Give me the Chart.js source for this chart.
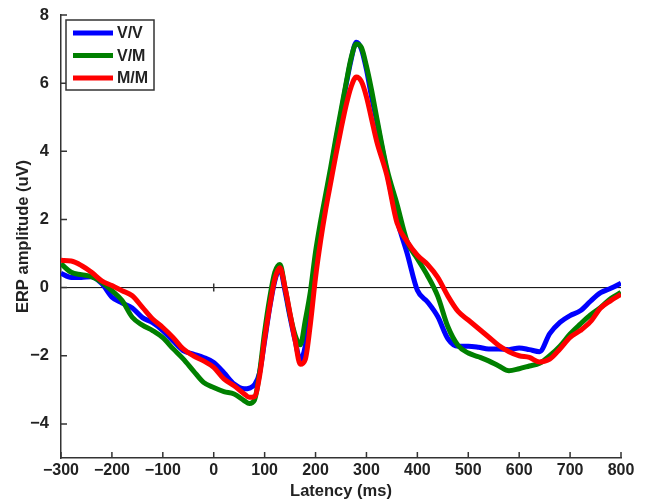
<!DOCTYPE html>
<html>
<head>
<meta charset="utf-8">
<script src="https://cdn.jsdelivr.net/npm/chart.js@4.4.1/dist/chart.umd.min.js"></script>
<style>
  html, body { margin: 0; padding: 0; background: #fff; }
  canvas { display: block; }
</style>
</head>
<body>
<canvas id="erp" width="646" height="501"></canvas>
<script>
// latency points (ms), finer steps around the fast components
const latency = [-300,-280,-260,-240,-220,-200,-180,-160,-140,-120,-100,-80,-60,-40,-20,0,20,40,60,
  70,80,90,100,110,120,130,140,150,160,170,180,190,200,210,220,230,240,250,260,270,280,290,300,310,320,
  340,360,380,400,420,440,460,480,500,520,540,560,580,600,620,640,660,680,700,720,740,760,780,800];

// ERP amplitude (uV) per condition
const vv = [0.42,0.3,0.3,0.32,0.12,-0.28,-0.45,-0.6,-0.88,-1.03,-1.26,-1.56,-1.85,-1.95,-2.05,-2.2,-2.5,-2.83,-2.97,
  -2.95,-2.85,-2.5,-1.56,-0.58,0.2,0.55,-0.1,-0.87,-1.56,-2.12,-1.7,-0.5,0.6,1.55,2.5,3.4,4.3,5.1,5.95,6.7,7.2,7.0,6.4,5.6,4.9,
  3.4,2.0,1.0,-0.08,-0.42,-0.85,-1.5,-1.72,-1.72,-1.75,-1.8,-1.8,-1.82,-1.77,-1.82,-1.88,-1.35,-1.02,-0.82,-0.68,-0.4,-0.15,-0.02,0.13];
const vm = [0.7,0.45,0.38,0.32,0.16,-0.09,-0.38,-0.87,-1.1,-1.26,-1.47,-1.79,-2.09,-2.44,-2.78,-2.93,-3.05,-3.12,-3.32,
  -3.4,-3.3,-2.5,-1.3,-0.3,0.45,0.68,0.0,-0.8,-1.4,-1.68,-0.95,-0.1,1.05,1.95,2.75,3.55,4.4,5.2,6.0,6.75,7.15,7.05,6.5,5.8,5.0,
  3.5,2.45,1.35,0.85,0.35,-0.25,-1.15,-1.7,-1.92,-2.03,-2.15,-2.3,-2.44,-2.38,-2.3,-2.22,-2.0,-1.72,-1.36,-1.07,-0.8,-0.58,-0.32,-0.14];
const mm = [0.8,0.78,0.65,0.45,0.2,0.06,-0.09,-0.24,-0.58,-0.92,-1.17,-1.46,-1.8,-2.0,-2.15,-2.34,-2.68,-2.88,-3.12,
  -3.22,-3.2,-2.6,-1.5,-0.55,0.25,0.58,0.0,-0.77,-1.56,-2.25,-2.1,-1.05,0.3,1.38,2.3,3.1,3.9,4.65,5.35,5.9,6.18,6.05,5.6,4.95,4.3,
  3.3,1.9,1.35,0.95,0.68,0.3,-0.25,-0.7,-0.95,-1.2,-1.45,-1.7,-1.88,-2.0,-2.05,-2.18,-2.1,-1.8,-1.46,-1.26,-1.0,-0.6,-0.38,-0.2];

const seriesNames = ['V/V', 'V/M', 'M/M'];
const seriesColors = ['#0000ff', '#008000', '#ff0000'];
const yTicks = [-4, -2, 0, 2, 4, 6, 8];

const FONT = 'Liberation Sans, Arial, sans-serif';
const INK = '#222';
const AXIS = '#333';

function toPoints(vals) {
  return latency.map((t, i) => ({ x: t, y: vals[i] }));
}

function minus(v) {
  return String(v).replace('-', '\u2212');
}

// zero line, inward tick marks and the boxed legend in the upper left
const erpDecor = {
  id: 'erpDecor',
  beforeDatasetsDraw(chart) {
    const { ctx, chartArea, scales } = chart;
    const y0 = scales.y.getPixelForValue(0);
    ctx.save();
    ctx.strokeStyle = '#000';
    ctx.lineWidth = 1;
    ctx.beginPath();
    ctx.moveTo(chartArea.left, y0);
    ctx.lineTo(chartArea.right, y0);
    ctx.stroke();
    ctx.restore();
  },
  afterDraw(chart) {
    const { ctx, chartArea, scales } = chart;
    const x = scales.x, y = scales.y;
    ctx.save();
    ctx.strokeStyle = AXIS;
    ctx.lineWidth = 1.5;
    ctx.beginPath();
    x.ticks.forEach(t => {
      const px = x.getPixelForValue(t.value);
      ctx.moveTo(px, chartArea.bottom);
      ctx.lineTo(px, chartArea.bottom - 6);
    });
    y.ticks.forEach(t => {
      const py = y.getPixelForValue(t.value);
      ctx.moveTo(chartArea.left, py);
      ctx.lineTo(chartArea.left + 6, py);
    });
    // small tick where the zero line crosses latency 0
    const x0 = x.getPixelForValue(0), y0 = y.getPixelForValue(0);
    ctx.moveTo(x0, y0 - 4);
    ctx.lineTo(x0, y0 + 4);
    ctx.stroke();

    // legend
    const bx = chartArea.left + 5, by = chartArea.top + 5, bw = 88, bh = 70;
    ctx.fillStyle = '#fff';
    ctx.fillRect(bx, by, bw, bh);
    ctx.strokeStyle = AXIS;
    ctx.lineWidth = 1.5;
    ctx.strokeRect(bx, by, bw, bh);
    ctx.font = 'bold 16px ' + FONT;
    ctx.textBaseline = 'middle';
    ctx.textAlign = 'left';
    seriesNames.forEach((name, i) => {
      const ly = by + 13 + i * 22.5;
      ctx.strokeStyle = seriesColors[i];
      ctx.lineWidth = 5;
      ctx.beginPath();
      ctx.moveTo(bx + 7, ly);
      ctx.lineTo(bx + 47, ly);
      ctx.stroke();
      ctx.fillStyle = INK;
      ctx.fillText(name, bx + 51, ly + 1);
    });
    ctx.restore();
  }
};

// red drawn on top, blue at the bottom
const drawOrder = [3, 2, 1];

const datasets = [vv, vm, mm].map((vals, i) => ({
  label: seriesNames[i],
  data: toPoints(vals),
  borderColor: seriesColors[i],
  borderWidth: 5,
  pointRadius: 0,
  fill: false,
  order: drawOrder[i],
  cubicInterpolationMode: 'monotone'
}));

new Chart(document.getElementById('erp'), {
  type: 'line',
  data: { datasets },
  options: {
    responsive: false,
    animation: false,
    layout: { padding: { top: 15, right: 25, left: 0, bottom: 0 } },
    plugins: { legend: { display: false }, tooltip: { enabled: false } },
    scales: {
      x: {
        type: 'linear',
        min: -300,
        max: 800,
        grid: { display: false },
        border: { display: true, color: AXIS, width: 1.5 },
        ticks: {
          stepSize: 100,
          padding: -5,
          maxRotation: 0,
          color: INK,
          font: { family: FONT, size: 16, weight: 'bold' },
          callback: v => minus(v)
        },
        title: {
          display: true,
          text: 'Latency (ms)',
          color: INK,
          font: { family: FONT, size: 16.5, weight: 'bold' },
          padding: { top: 0, bottom: 0 }
        },
        afterFit: s => { s.height = 43; }
      },
      y: {
        min: -5,
        max: 8,
        grid: { display: false },
        border: { display: true, color: AXIS, width: 1.5 },
        afterBuildTicks: axis => { axis.ticks = yTicks.map(v => ({ value: v })); },
        ticks: {
          padding: 4,
          color: INK,
          font: { family: FONT, size: 16.5, weight: 'bold' },
          callback: v => minus(v)
        },
        title: {
          display: true,
          text: 'ERP amplitude (uV)',
          color: INK,
          font: { family: FONT, size: 16.5, weight: 'bold' },
          padding: { top: 14, bottom: 0 }
        },
        afterFit: s => { s.width = 61; }
      }
    }
  },
  plugins: [erpDecor]
});
</script>
</body>
</html>
